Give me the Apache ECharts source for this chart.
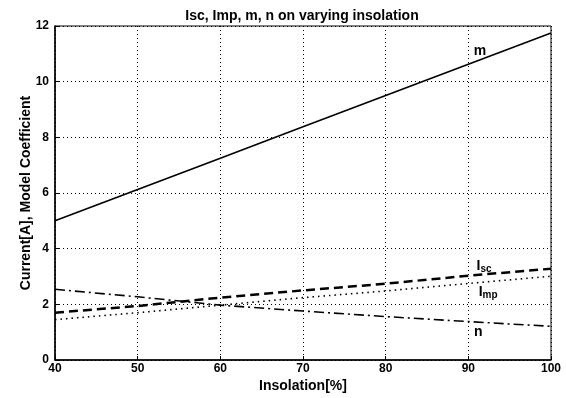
<!DOCTYPE html>
<html>
<head>
<meta charset="utf-8">
<script src="https://cdn.jsdelivr.net/npm/echarts@6/dist/echarts.min.js"></script>
<style>
  html, body { margin: 0; padding: 0; background: #fff; }
  #chart { width: 566px; height: 398px; }
</style>
</head>
<body>
<div id="chart"></div>
<script>
var insolation = [40, 50, 60, 70, 80, 90, 100];
var mValues   = [5.0, 6.13, 7.25, 8.38, 9.5, 10.63, 11.75];
var iscValues = [1.70, 1.94, 2.24, 2.50, 2.74, 3.03, 3.28];
var impValues = [1.45, 1.70, 1.97, 2.24, 2.48, 2.75, 3.01];
var nValues   = [2.54, 2.27, 1.97, 1.76, 1.56, 1.38, 1.21];

var font = 'Liberation Sans, Arial, sans-serif';

function pairs(ys) {
  return insolation.map(function (x, i) { return [x, ys[i]]; });
}

// curve names written next to the right end of each line
function tag(coord, text) {
  return {
    symbol: 'circle',
    symbolSize: 0,
    data: [{ coord: coord, value: 0 }],
    label: {
      show: true,
      position: 'inside',
      formatter: text,
      color: '#000',
      fontFamily: font,
      fontWeight: 'bold',
      fontSize: 14,
      rich: {
        sub: { fontSize: 10, fontWeight: 'bold', fontFamily: font, color: '#000', verticalAlign: 'bottom', padding: [6, 0, 0, 0] }
      }
    }
  };
}

var chart = echarts.init(document.getElementById('chart'));

var option = {
  animation: false,
  backgroundColor: '#fff',
  title: {
    text: 'Isc, Imp, m, n on varying insolation',
    left: 297,
    textAlign: 'center',
    top: 4,
    textStyle: { fontFamily: font, fontSize: 14, fontWeight: 'bold', color: '#000' }
  },
  grid: {
    left: 55, right: 15, top: 26, bottom: 32,
    show: true, borderColor: '#000', borderWidth: 1
  },
  xAxis: {
    type: 'value',
    min: 40, max: 100, interval: 10,
    name: 'Insolation[%]',
    nameLocation: 'middle',
    nameGap: 19,
    nameMoveOverlap: false,
    nameTextStyle: { fontFamily: font, fontSize: 14, fontWeight: 'bold', color: '#000' },
    axisLine: { show: true, lineStyle: { color: '#000', width: 1.5 } },
    axisTick: { show: true, inside: true, length: 4, lineStyle: { color: '#000' } },
    axisLabel: { fontFamily: font, fontSize: 12, fontWeight: 'bold', color: '#000', margin: 3 },
    splitLine: { show: true, lineStyle: { color: '#000', width: 1, type: [1, 3] } }
  },
  yAxis: {
    type: 'value',
    min: 0, max: 12, interval: 2,
    name: 'Current[A], Model Coefficient',
    nameLocation: 'middle',
    nameGap: 22,
    nameMoveOverlap: false,
    nameTextStyle: { fontFamily: font, fontSize: 14, fontWeight: 'bold', color: '#000' },
    axisLine: { show: true, lineStyle: { color: '#000', width: 1.5 } },
    axisTick: { show: true, inside: true, length: 4, lineStyle: { color: '#000' } },
    axisLabel: { fontFamily: font, fontSize: 12, fontWeight: 'bold', color: '#000', margin: 6 },
    splitLine: { show: true, lineStyle: { color: '#000', width: 1, type: [1, 3] } }
  },
  series: [
    {
      name: 'm', type: 'line', data: pairs(mValues), showSymbol: false,
      lineStyle: { color: '#000', width: 1.6, type: 'solid' },
      markPoint: tag([91.4, 11.08], 'm')
    },
    {
      name: 'Isc', type: 'line', data: pairs(iscValues), showSymbol: false,
      lineStyle: { color: '#000', width: 2.5, type: [9, 5] },
      markPoint: tag([91.9, 3.38], 'I{sub|sc}')
    },
    {
      name: 'Imp', type: 'line', data: pairs(impValues), showSymbol: false,
      lineStyle: { color: '#000', width: 1.6, type: [1.5, 4] },
      markPoint: tag([92.4, 2.44], 'I{sub|mp}')
    },
    {
      name: 'n', type: 'line', data: pairs(nValues), showSymbol: false,
      lineStyle: { color: '#000', width: 1.6, type: [10, 4, 2, 4] },
      markPoint: tag([91.2, 0.99], 'n')
    }
  ]
};

chart.setOption(option);
</script>
</body>
</html>
